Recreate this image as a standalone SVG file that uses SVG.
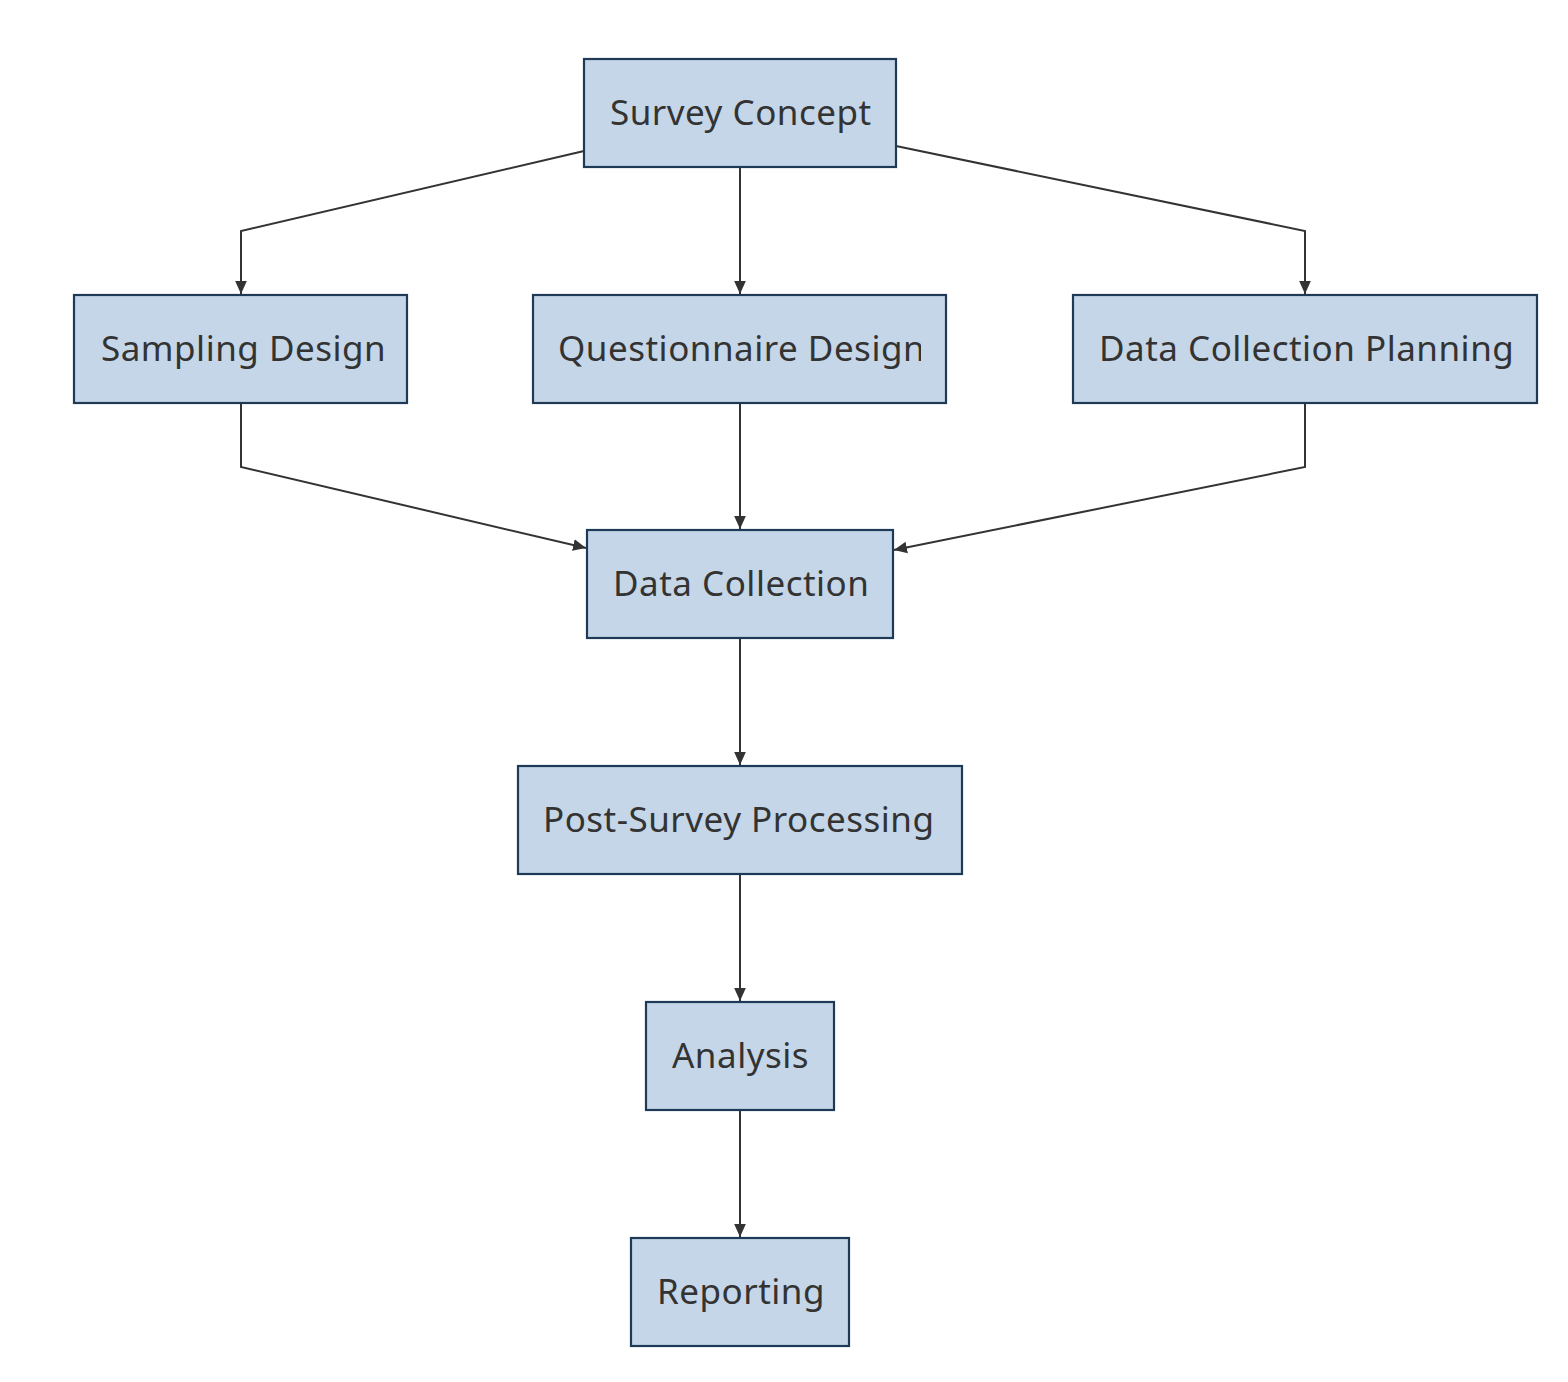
<svg xmlns="http://www.w3.org/2000/svg" width="1568" height="1382" viewBox="0 0 1568 1382">
<style>
.box{fill:#c5d6e8;stroke:#1e3a56;stroke-width:2.2}
.lbl{font-family:"Noto Sans","Open Sans",sans-serif;font-size:35px;letter-spacing:0.5px;fill:#333333;dominant-baseline:central}
.edge{fill:none;stroke:#333333;stroke-width:2}
</style>
<defs>
<marker id="arr" viewBox="0 0 10 10" refX="10" refY="5" markerWidth="13" markerHeight="13" markerUnits="userSpaceOnUse" orient="auto">
<path d="M0,0.5 L10,5 L0,9.5 z" fill="#333333"/>
</marker>
<clipPath id="c1"><rect x="584" y="59" width="288" height="108"/></clipPath>
<clipPath id="c2"><rect x="74" y="295" width="312" height="108"/></clipPath>
<clipPath id="c3"><rect x="533" y="295" width="388" height="108"/></clipPath>
<clipPath id="c4"><rect x="1073" y="295" width="439" height="108"/></clipPath>
<clipPath id="c5"><rect x="587" y="530" width="282" height="108"/></clipPath>
<clipPath id="c6"><rect x="518" y="766" width="419" height="108"/></clipPath>
<clipPath id="c7"><rect x="646" y="1002" width="165" height="108"/></clipPath>
<clipPath id="c8"><rect x="631" y="1238" width="195" height="108"/></clipPath>
</defs>
<rect width="1568" height="1382" fill="#ffffff"/>
<g id="connectors">
<path class="edge" d="M584,151 L241,231 L241,294" marker-end="url(#arr)"/>
<path class="edge" d="M740,167 L740,294" marker-end="url(#arr)"/>
<path class="edge" d="M896,146 L1305,231 L1305,294" marker-end="url(#arr)"/>
<path class="edge" d="M241,403 L241,467 L586,548" marker-end="url(#arr)"/>
<path class="edge" d="M740,403 L740,529" marker-end="url(#arr)"/>
<path class="edge" d="M1305,403 L1305,467 L894,550" marker-end="url(#arr)"/>
<path class="edge" d="M740,638 L740,765" marker-end="url(#arr)"/>
<path class="edge" d="M740,874 L740,1001" marker-end="url(#arr)"/>
<path class="edge" d="M740,1110 L740,1237" marker-end="url(#arr)"/>
</g>
<g id="survey-concept"><rect class="box" x="584" y="59" width="312" height="108"/><text class="lbl" x="610" y="111" clip-path="url(#c1)">Survey Concept</text></g>
<g id="sampling-design"><rect class="box" x="74" y="295" width="333" height="108"/><text class="lbl" x="101" y="347" clip-path="url(#c2)">Sampling Design</text></g>
<g id="questionnaire-design"><rect class="box" x="533" y="295" width="413" height="108"/><text class="lbl" x="558" y="347" clip-path="url(#c3)">Questionnaire Design</text></g>
<g id="data-collection-planning"><rect class="box" x="1073" y="295" width="464" height="108"/><text class="lbl" x="1099" y="347" clip-path="url(#c4)">Data Collection Planning</text></g>
<g id="data-collection"><rect class="box" x="587" y="530" width="306" height="108"/><text class="lbl" x="613" y="582" clip-path="url(#c5)">Data Collection</text></g>
<g id="post-survey-processing"><rect class="box" x="518" y="766" width="444" height="108"/><text class="lbl" x="543" y="818" clip-path="url(#c6)">Post-Survey Processing</text></g>
<g id="analysis"><rect class="box" x="646" y="1002" width="188" height="108"/><text class="lbl" x="672" y="1054" clip-path="url(#c7)">Analysis</text></g>
<g id="reporting"><rect class="box" x="631" y="1238" width="218" height="108"/><text class="lbl" x="657" y="1290" clip-path="url(#c8)">Reporting</text></g>
</svg>
